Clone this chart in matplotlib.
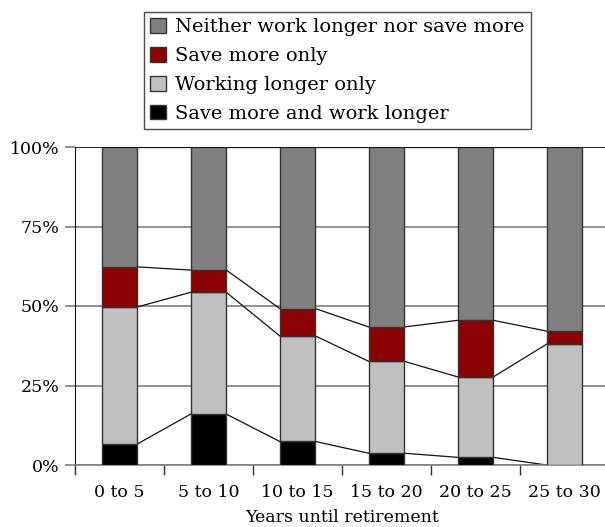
import matplotlib.pyplot as plt
from matplotlib.patches import Patch

# categories and shares (%)
categories = ['0 to 5', '5 to 10', '10 to 15', '15 to 20', '20 to 25', '25 to 30']
both = [6.6, 16.0, 7.4, 3.7, 2.4, 0.0]
work_only = [43.1, 38.3, 33.2, 28.9, 25.3, 38.0]
save_only = [12.6, 7.0, 8.6, 10.8, 17.8, 4.1]
neither = [37.7, 38.7, 50.8, 56.6, 54.5, 57.9]

series = [
    ('Save more and work longer', both, '#000000'),
    ('Working longer only', work_only, '#c0c0c0'),
    ('Save more only', save_only, '#8b0000'),
    ('Neither work longer nor save more', neither, '#808080'),
]

plt.rcParams['font.family'] = ['DejaVu Serif']

fig = plt.figure(figsize=(6.05, 5.27), dpi=100)
ax = fig.add_axes([75 / 605, 62 / 527, 534 / 605, 318 / 527])

x = list(range(len(categories)))
w = 0.4
bottom = [0.0] * len(categories)
for name, vals, col in series:
    ax.bar(x, vals, w, bottom=bottom, color=col, edgecolor='#333333',
           linewidth=1.0, zorder=3)
    bottom = [b + v for b, v in zip(bottom, vals)]
    # series lines joining the segment tops of neighbouring bars
    for i in range(len(x) - 1):
        ax.plot([x[i] + w / 2, x[i + 1] - w / 2], [bottom[i], bottom[i + 1]],
                color='#111111', linewidth=0.9, zorder=2)

ax.set_xlim(-0.5, len(categories) - 0.5)
ax.set_ylim(0, 100)
ax.set_yticks([0, 25, 50, 75, 100])
ax.set_yticklabels(['0%', '25%', '50%', '75%', '100%'])
ax.yaxis.grid(True, color='#808080', linewidth=1.2, zorder=0)
ax.set_axisbelow(True)

ax.set_xticks(x)
ax.set_xticklabels(categories)
ax.set_xticks([i - 0.5 for i in x], minor=True)
ax.tick_params(axis='x', which='major', length=0, pad=14, labelsize=12.5)
ax.tick_params(axis='x', which='minor', length=7, color='#333333', width=1)
ax.tick_params(axis='y', length=7, color='#808080', width=1.2, labelsize=12.5, pad=4)
ax.set_xlabel('Years until retirement', fontsize=12.5, labelpad=5.5)

for s in ['top', 'right']:
    ax.spines[s].set_visible(False)
ax.spines['left'].set_color('#111111')
ax.spines['bottom'].set_color('#808080')
ax.spines['bottom'].set_linewidth(1.2)
ax.axhline(100, color='#111111', linewidth=1.2, zorder=4)

handles = [Patch(facecolor=c, edgecolor='#333333', label=n) for n, _, c in series[::-1]]
leg = fig.legend(handles=handles, loc='upper center', bbox_to_anchor=(0.558, 0.977),
                 fontsize=14, frameon=True, fancybox=False, edgecolor='#222222',
                 handlelength=0.8, handleheight=0.8, handletextpad=0.5,
                 borderpad=0.3, labelspacing=0.55, borderaxespad=0)
leg.get_frame().set_linewidth(1.0)

fig.savefig('out.png', dpi=100)
